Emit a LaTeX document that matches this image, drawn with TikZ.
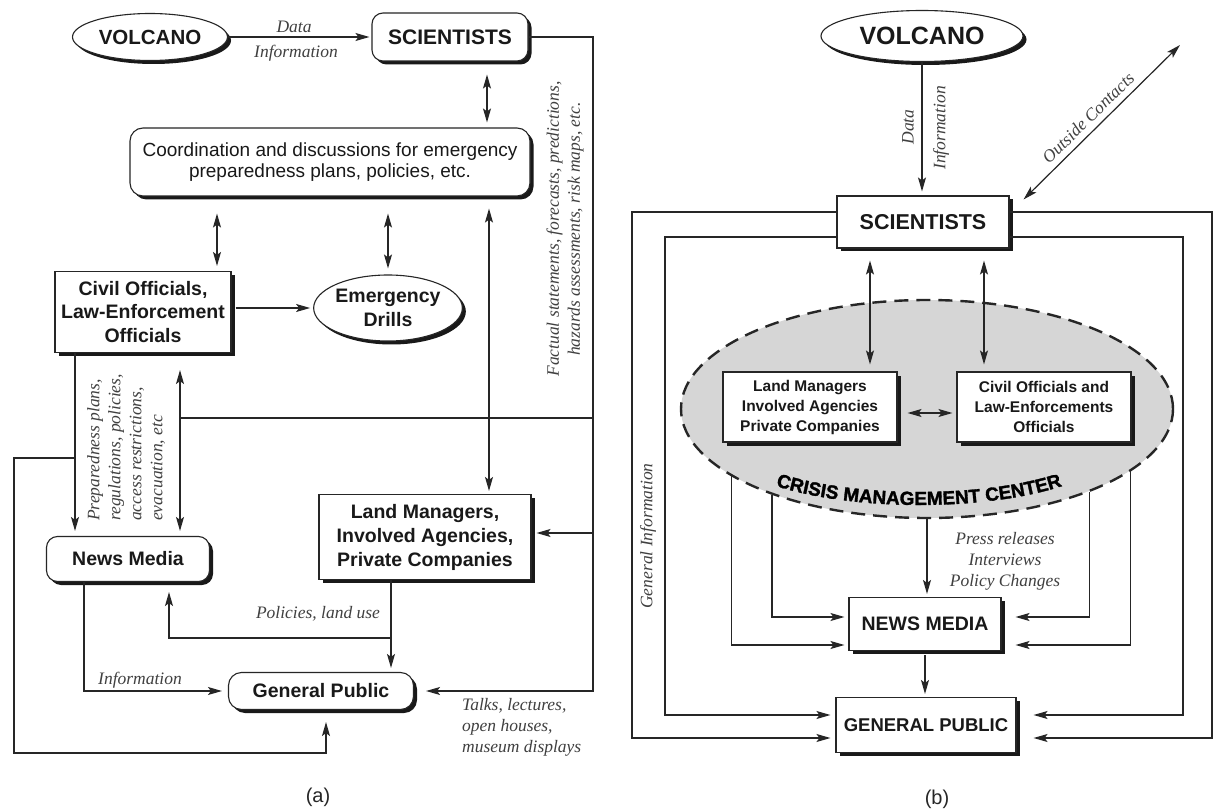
\documentclass[tikz,border=0pt]{standalone}
\usepackage{fontspec}
\setmainfont{Liberation Serif}
\setsansfont{Liberation Sans}
\newfontfamily\heavyfont{Liberation Sans}[BoldFeatures={FakeBold=1.6}]
\usetikzlibrary{arrows.meta,shapes.geometric,shadows,decorations.text,calc}
\newcommand\fsz[2]{\fontsize{#1}{#2}\selectfont}
\newcommand\cmcfont{\heavyfont\bfseries\fontsize{19}{19}\selectfont}
\begin{document}
\begin{tikzpicture}[x=1pt,y=-1pt,
  every node/.style={inner sep=0pt},
  lab/.style={font=\sffamily\bfseries\fsz{19.5}{23.5}, align=center, text=black!90},
  shad/.style={drop shadow={shadow xshift=3.5pt,shadow yshift=-3.5pt,opacity=1,fill=black!90}},
  rbox/.style={draw=black!85, line width=1.1pt, rounded corners=11pt, fill=white, shad, lab},
  sbox/.style={draw=black!85, line width=1.1pt, fill=white, shad, lab},
  ebox/.style={ellipse, draw=black!85, line width=1.1pt, fill=white, shad, lab},
  itl/.style={font=\itshape\fsz{17.5}{21}, text=black!75, align=center},
  con/.style={line width=1.2pt, draw=black!85},
  tip/.tip={Stealth[length=14pt,width=8pt,inset=3pt]},
  arr/.style={con, -tip},
  dbl/.style={con, tip-tip},
]
\fill[white] (0,0) rectangle (1213,810);
\useasboundingbox (0,0) rectangle (1213,810);

% ---------------- (a) ----------------
\node[ebox, minimum width=155pt, minimum height=47pt, font=\sffamily\bfseries\fsz{20.5}{24}] (volA) at (150,37) {VOLCANO};
\node[rbox, minimum width=156pt, minimum height=48pt, font=\sffamily\bfseries\fsz{21}{24}] (sciA) at (450,37) {SCIENTISTS};
\node[rbox, minimum width=400pt, minimum height=68pt, font=\sffamily\fsz{19}{21.5}, rounded corners=13pt] (coA) at (330,162) {Coordination and discussions for emergency\\preparedness plans, policies, etc.};
\node[sbox, minimum width=176pt, minimum height=81pt] (civA) at (143,312) {Civil Officials,\\Law-Enforcement\\Officials};
\node[ebox, minimum width=133pt, minimum height=66pt] (emA) at (388,308) {Emergency\\Drills};
\node[sbox, minimum width=212pt, minimum height=85pt, font=\sffamily\bfseries\fsz{19.5}{24}] (lmA) at (425,537) {Land Managers,\\Involved Agencies,\\Private Companies};
\node[rbox, minimum width=163pt, minimum height=45pt] (nmA) at (128,559) {News Media};
\node[rbox, minimum width=185pt, minimum height=37pt, rounded corners=13pt] (gpA) at (321,691) {General Public};

\node[itl] (lData) at (294,27) {Data};
\node[itl] (lInfo) at (296,53) {Information};
\node[itl, rotate=90] (lFact) at (565,229) {Factual statements, forecasts, predictions,\\hazards assessments, risk maps, etc.};
\node[itl, rotate=90, align=left, anchor=north west] (lPrep) at (87,521) {Preparedness plans,\\regulations, policies,\\access restrictions,\\evacuation, etc};
\node[itl] (lPol) at (318,614) {Policies, land use};
\node[itl] (lInf2) at (140,680) {Information};
\node[itl, align=left, anchor=north west] (lTalk) at (462,698) {Talks, lectures,\\open houses,\\museum displays};
\node[font=\sffamily\fsz{20}{24}, text=black!85] (capA) at (318,797) {(a)};

\coordinate (xR) at (593,0);
\coordinate (xL) at (75,0);
\coordinate (xLL) at (14,0);
\coordinate (xD) at (180,0);
\coordinate (xS) at (487,0);
\coordinate (xC1) at (217,0);
\coordinate (xC3) at (489,0);
\coordinate (xN) at (84,0);
\coordinate (xP) at (391,0);
\coordinate (xQ) at (169,0);
\coordinate (xG) at (326,0);
\coordinate (yH) at (0,418);
\coordinate (yB) at (0,458);
\coordinate (yBot) at (0,753);
\coordinate (yM) at (0,638);

\draw[arr, shorten >=2pt] (volA.east) -- (sciA.west);
\draw[dbl, shorten <=13pt, shorten >=5pt] (sciA.south -| xS) -- (coA.north -| xS);
\draw[dbl, shorten <=17pt, shorten >=5pt] (coA.south -| xC1) -- (civA.north -| xC1);
\draw[dbl, shorten <=17pt, shorten >=6pt] (coA.south -| emA.north) -- (emA.north);
\draw[dbl, shorten <=12pt, shorten >=3pt] (coA.south -| xC3) -- (lmA.north -| xC3);
\draw[arr, shorten <=4pt, shorten >=3pt] (civA.east |- emA.west) -- (emA.west);
\draw[arr, shorten >=12pt] (sciA.east) -| (xR |- gpA.east) -- (gpA.east);
\draw[con] (xR |- yH) -- (xD |- yH);
\draw[arr, shorten >=5pt] ([yshift=4pt]xR |- lmA.east) -- ([yshift=4pt]lmA.east);
\draw[dbl, shorten <=17pt, shorten >=5pt] (civA.south -| xD) -- (nmA.north -| xD);
\draw[arr, shorten >=5pt] (civA.south -| xL) -- (nmA.north -| xL);
\draw[arr, shorten >=12pt] (xL |- yB) -- (xLL |- yB) -- (xLL |- yBot) -| (gpA.south -| xG);
\draw[arr, shorten >=6pt] (nmA.south -| xN) |- (gpA.west);
\draw[arr, shorten >=4pt] (lmA.south -| xP) -- (gpA.north -| xP);
\draw[arr, shorten >=10pt] (xP |- yM) -| (nmA.south -| xQ);

% ---------------- (b) ----------------
\node[ellipse, draw=black!85, line width=2.4pt, dash pattern=on 14pt off 8pt, fill=black!16, minimum width=492pt, minimum height=218pt] (cmc) at (927,409) {};
\node[ebox, minimum width=202pt, minimum height=51pt, font=\sffamily\bfseries\fsz{25}{28}] (volB) at (922,36) {VOLCANO};
\node[sbox, minimum width=172pt, minimum height=52pt, font=\sffamily\bfseries\fsz{21.5}{25}] (sciB) at (923,222) {SCIENTISTS};
\node[sbox, minimum width=174pt, minimum height=70pt, font=\sffamily\bfseries\fsz{15.5}{20}] (lmB) at (810,407) {Land Managers\\Involved Agencies\\Private Companies};
\node[sbox, minimum width=174pt, minimum height=70pt, font=\sffamily\bfseries\fsz{15.5}{20}] (civB) at (1044,407) {Civil Officials and\\Law-Enforcements\\Officials};
\node[sbox, minimum width=152pt, minimum height=53pt, font=\sffamily\bfseries\fsz{19.5}{23}] (nmB) at (925,624) {NEWS MEDIA};
\node[sbox, minimum width=180pt, minimum height=55pt, font=\sffamily\bfseries\fsz{18.5}{22}] (gpB) at (926,725) {GENERAL PUBLIC};

\node[itl, rotate=90] (bData) at (908,127) {Data};
\node[itl, rotate=90] (bInfo) at (941,128) {Information};
\node[itl] (bPress) at (1005,561) {Press releases\\Interviews\\Policy Changes};
\node[itl, rotate=90] (bGen) at (648,536) {General Information};
\node[font=\sffamily\fsz{20}{24}, text=black!85] (capB) at (937,799) {(b)};

\path[decorate, decoration={text along path, text align=center, text={|\cmcfont|CRISIS MANAGEMENT CENTER}}]
  (770,484) .. controls (850,512) and (990,512) .. (1068,484);

\coordinate (xO1) at (632,0);
\coordinate (xI1) at (665,0);
\coordinate (xO2) at (1212,0);
\coordinate (xI2) at (1183,0);
\coordinate (yO) at (0,738);
\coordinate (yI) at (0,715);
\coordinate (xs1) at (870,0);
\coordinate (xs2) at (984,0);
\coordinate (ocE) at (1180,45);

\draw[arr, shorten >=4pt] (volB.south) -- (volB.south |- sciB.north);
\draw[dbl] ([xshift=14pt,yshift=-4pt]sciB.north east) -- node[itl, sloped, above=6pt, pos=0.47] (lOut) {Outside Contacts} (ocE);
\draw[arr, shorten >=5pt] ([yshift=10pt]sciB.west) -| (xO1 |- yO) -- (gpB.west |- yO);
\draw[arr, shorten >=5pt] ([yshift=-15pt]sciB.west) -| (xI1 |- yI) -- (gpB.west |- yI);
\draw[arr, shorten >=17pt] ([yshift=10pt]sciB.east) -| (xO2 |- yO) -- (gpB.east |- yO);
\draw[arr, shorten >=17pt] ([yshift=-15pt]sciB.east) -| (xI2 |- yI) -- (gpB.east |- yI);
\draw[dbl, shorten <=12pt, shorten >=7pt] (sciB.south -| xs1) -- (lmB.north -| xs1);
\draw[dbl, shorten <=12pt, shorten >=7pt] (sciB.south -| xs2) -- (civB.north -| xs2);
\draw[dbl, shorten <=10pt, shorten >=4pt] ([yshift=-6pt]lmB.east) -- ([yshift=-6pt]civB.west);
\draw[arr, shorten >=4pt] (cmc.199) |- ([yshift=-21pt]nmB.west);
\draw[arr, shorten >=4pt] (cmc.209) |- ([yshift=7pt]nmB.west);
\draw[arr, shorten >=14pt] (cmc.333) |- ([yshift=7pt]nmB.east);
\draw[arr, shorten >=14pt] (cmc.343) |- ([yshift=-21pt]nmB.east);
\draw[arr, shorten >=3pt] (cmc.south) -- (cmc.south |- nmB.north);
\draw[arr, shorten <=4pt, shorten >=3pt] (nmB.south) -- (nmB.south |- gpB.north);
\end{tikzpicture}
\end{document}
